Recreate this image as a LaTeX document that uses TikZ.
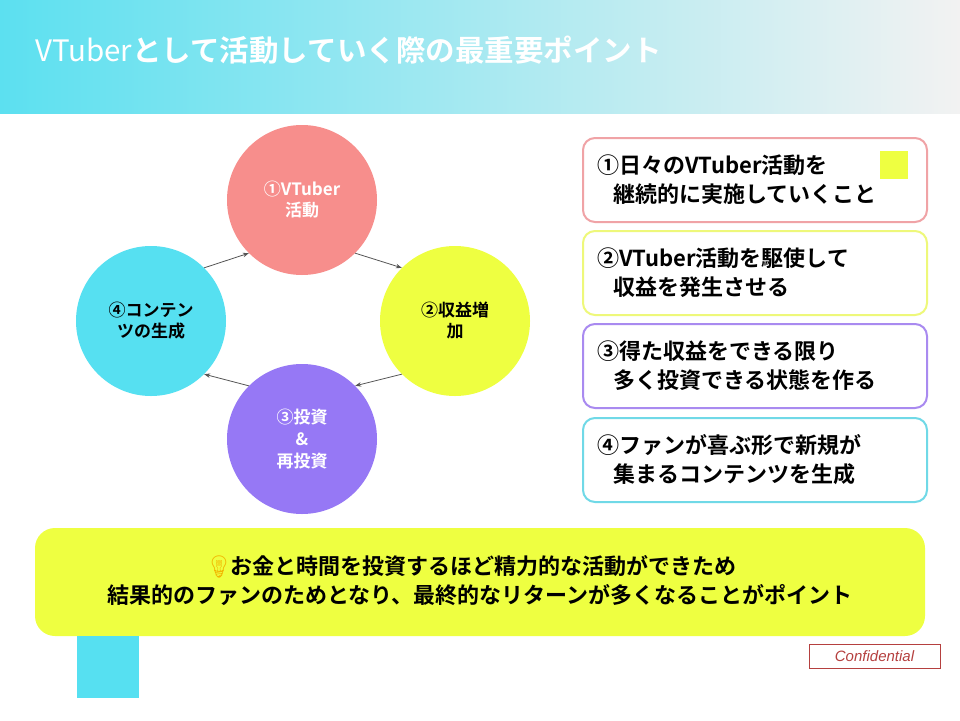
\documentclass[tikz,border=0pt]{standalone}
\usepackage{fontspec}
\setmainfont{Noto Sans CJK JP}[BoldFont={* Bold}]
\newfontfamily\emojifont{Noto Emoji}
\newfontfamily\conffont{Liberation Sans}
\usetikzlibrary{arrows.meta}
\definecolor{cpink}{HTML}{F78E8C}
\definecolor{clime}{HTML}{EEFF41}
\definecolor{cpurple}{HTML}{9678F5}
\definecolor{ccyan}{HTML}{56E0F1}
\definecolor{bpink}{HTML}{F0A3A6}
\definecolor{blime}{HTML}{EEF87A}
\definecolor{bpurple}{HTML}{A98AF0}
\definecolor{bcyan}{HTML}{70D9E7}
\definecolor{titleL}{HTML}{5CE0F0}
\definecolor{titleR}{HTML}{F2F2F2}
\definecolor{confred}{HTML}{B5403F}
\definecolor{arrgray}{HTML}{555555}
\definecolor{bulb}{HTML}{F2B600}
\tikzset{
  cyc/.style={circle, minimum size=150pt, inner sep=0pt, align=center,
    font=\bfseries\fontsize{17}{21}\selectfont},
  cycarrow/.style={draw=arrgray, line width=0.8pt, -{Stealth[length=6pt,width=4.5pt]}},
  stepbox/.style={draw=#1, line width=2pt, rounded corners=12pt, fill=white,
    minimum height=84pt, text width=316pt, inner xsep=14pt, align=left,
    font=\bfseries\fontsize{22}{29}\selectfont},
}
\begin{document}
\begin{tikzpicture}[x=1pt,y=-1pt]
\useasboundingbox (0,0) rectangle (960,720);
\fill[white] (0,0) rectangle (960,720);
\shade[left color=titleL, right color=titleR] (0,0) rectangle (960,113);
\node[anchor=west, text=white, inner sep=0pt, font=\fontsize{29.5}{30}\selectfont] (title) at (35,50)
  {VTuber\textbf{として活動していく際の最重要ポイント}};

% cycle
\node[cyc, fill=cpink, text=white] (c1) at (302,200) {①VTuber\\活動};
\node[cyc, fill=clime, text=black] (c2) at (455,321) {②収益増\\加};
\node[cyc, fill=cpurple, text=white, font=\bfseries\fontsize{17}{22}\selectfont] (c3) at (302,439) {③投資\\\&\\再投資};
\node[cyc, fill=ccyan, text=black] (c4) at (151,321) {④コンテン\\ツの生成};
\draw[cycarrow] (c4.north east) -- (c1.south west);
\draw[cycarrow] (c1.south east) -- (c2.north west);
\draw[cycarrow] (c2.south west) -- (c3.north east);
\draw[cycarrow] (c3.north west) -- (c4.south east);

% right boxes
\node[stepbox=bpink] (b1) at (755,180) {①日々のVTuber活動を\\\hspace*{16pt}継続的に実施していくこと};
\node[stepbox=blime] (b2) at (755,273) {②VTuber活動を駆使して\\\hspace*{16pt}収益を発生させる};
\node[stepbox=bpurple] (b3) at (755,366) {③得た収益をできる限り\\\hspace*{16pt}多く投資できる状態を作る};
\node[stepbox=bcyan] (b4) at (755,460) {④ファンが喜ぶ形で新規が\\\hspace*{16pt}集まるコンテンツを生成};
\node[fill=clime, minimum size=28pt, inner sep=0pt] (sq) at (894,165) {};

% bottom
\node[fill=clime, rounded corners=20pt, minimum width=890pt, minimum height=108pt] (bot) at (480,582) {};
\node[align=center, font=\bfseries\fontsize{22}{29}\selectfont] (bottxt) at ([yshift=1pt]bot.center)
  {{\emojifont\color{bulb}💡}\hspace{-2pt}お金と時間を投資するほど精力的な活動ができため\hspace*{18pt}\\結果的のファンのためとなり、最終的なリターンが多くなることがポイント};
\node[fill=ccyan, minimum width=62pt, minimum height=62pt, inner sep=0pt] (cy) at (108,667) {};
\node[draw=confred, line width=1pt, minimum width=131pt, minimum height=24pt, inner sep=0pt,
  text=confred, font=\conffont\itshape\fontsize{15}{15}\selectfont] (conf) at (874.5,656) {Confidential};
\end{tikzpicture}
\end{document}
